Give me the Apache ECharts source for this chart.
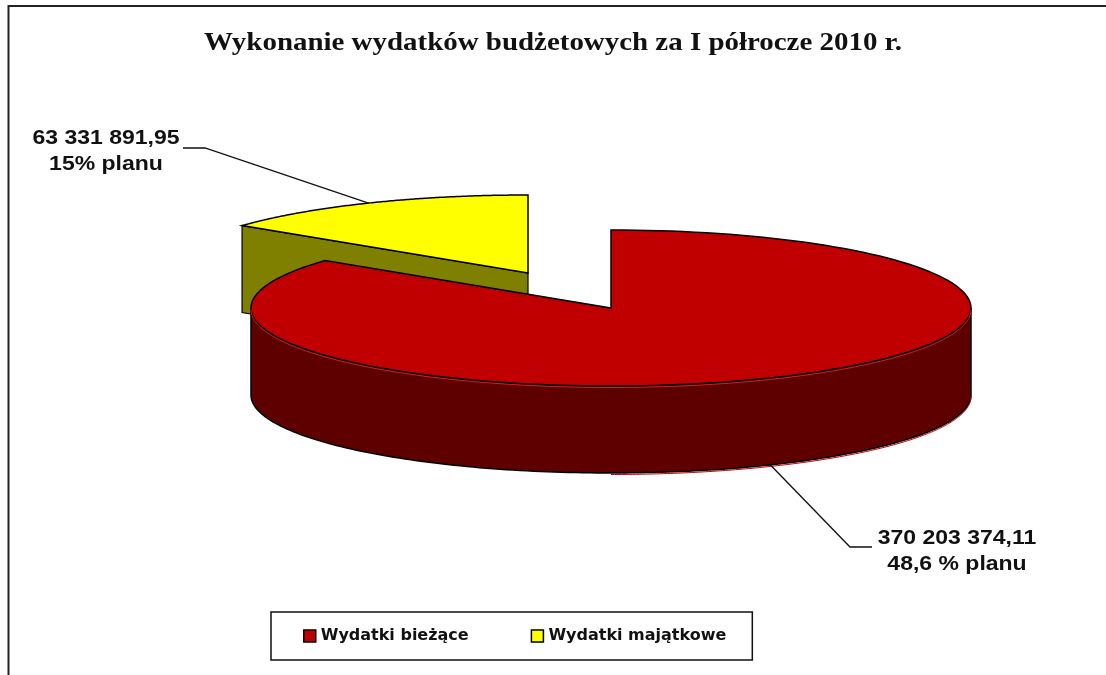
<!DOCTYPE html>
<html>
<head>
<meta charset="utf-8">
<style>html,body{margin:0;padding:0;background:#fff}#c{width:1106px;height:675px}</style>
<script src="https://cdn.jsdelivr.net/npm/echarts@6/dist/echarts.min.js"></script>
</head>
<body>
<div id="c"></div>
<script>
var titleText = 'Wykonanie wydatków budżetowych za I półrocze 2010 r.';
var categories = ['Wydatki bieżące', 'Wydatki majątkowe'];
var values = [370203374.11, 63331891.95];
var valueLabels = ['370 203 374,11', '63 331 891,95'];
var planLabels = ['48,6 % planu', '15% planu'];
var sliceColors = ['#C00000', '#FFFF00'];
var sideColors = ['#5F0000', '#808000'];

// 3D pie projection
var CX = 611, CY = 308, RX = 360, RY = 78, DEPTH = 87;
var EXPLODE = [[0, 0], [-83, -35]];
var LEADER_ELBOW = [[[850, 547], [872, 547]], [[205, 148], [183, 148]]];
var LABEL_POS = [[957, 551], [106, 151]];

var total = values[0] + values[1];
var red = values[0] / total * Math.PI * 2;
var ranges = [[0, red], [red, Math.PI * 2]];

function pt(i, a, dz) {
  return [CX + EXPLODE[i][0] + Math.sin(a) * RX,
          CY + EXPLODE[i][1] - Math.cos(a) * RY + (dz || 0)];
}
function arc(i, a0, a1, dz) {
  var out = [], n = 160;
  for (var k = 0; k <= n; k++) out.push(pt(i, a0 + (a1 - a0) * k / n, dz));
  return out;
}
function shape(type, pts, fill, w) {
  return {type: type, shape: {points: pts},
          style: {fill: fill, stroke: '#000', lineWidth: w === undefined ? 1.5 : w}};
}
function rim(pts, color) {
  return {type: 'polyline', shape: {points: pts},
          style: {fill: null, stroke: color, lineWidth: 1}};
}
function renderSlice(i) {
  return function () {
    var a0 = ranges[i][0], a1 = ranges[i][1];
    var c = [CX + EXPLODE[i][0], CY + EXPLODE[i][1]];
    var kids = [];
    if (i === 0) {
      var front = arc(i, Math.PI / 2, Math.PI * 1.5, 0);
      var frontBottom = arc(i, Math.PI * 1.5, Math.PI / 2, DEPTH);
      kids.push(shape('polygon', front.concat(frontBottom), sideColors[i], 1.5));
      kids.push(rim(arc(i, Math.PI / 2, Math.PI, DEPTH + 1.5), '#C00000'));
    } else {
      var p = pt(i, a0);
      kids.push(shape('polygon', [p, c, [c[0], c[1] + DEPTH], [p[0], p[1] + DEPTH]], sideColors[i], 1.2));
    }
    kids.push(shape('polygon', [c].concat(arc(i, a0, a1)), sliceColors[i], 1.5));
    if (i === 0) kids.push(rim(arc(i, Math.PI / 2, Math.PI * 1.5, 1.5), '#D02020'));
    // leader line from the middle of the slice's outer edge
    var mid = (a0 + a1) / 2;
    var start = pt(i, mid, Math.cos(mid) < 0 ? DEPTH : 0);
    kids.push({type: 'polyline', shape: {points: [start].concat(LEADER_ELBOW[i])},
               style: {fill: null, stroke: '#111', lineWidth: 1.3}});
    kids.push({type: 'text', x: LABEL_POS[i][0], y: LABEL_POS[i][1], scaleX: 1.15, style: {
      x: 0, y: 0, align: 'center', verticalAlign: 'middle',
      text: valueLabels[i] + '\n' + planLabels[i], lineHeight: 26,
      font: 'bold 20px "Liberation Sans"', fill: '#111'}});
    return {type: 'group', children: kids};
  };
}

var chart = echarts.init(document.getElementById('c'), null, {renderer: 'canvas'});
chart.setOption({
  animation: false,
  backgroundColor: '#fff',
  legend: {
    data: categories, left: 271, top: 612, orient: 'horizontal',
    padding: [16, 26, 16, 32], itemGap: 62, itemWidth: 12, itemHeight: 12, icon: 'rect',
    backgroundColor: '#fff', borderColor: '#111', borderWidth: 1.5,
    itemStyle: {borderColor: '#000', borderWidth: 1.5},
    textStyle: {fontFamily: '"DejaVu Sans"', fontWeight: 'bold', fontSize: 16, color: '#111'}
  },
  graphic: [{
    type: 'polyline', silent: true, z: -1,
    shape: {points: [[1106, 6], [8.5, 6], [8.5, 675]]},
    style: {fill: null, stroke: '#222', lineWidth: 2}
  }, {
    type: 'text', silent: true, x: 553, y: 44, scaleX: 1.157,
    style: {x: 0, y: 0, text: titleText, align: 'center', verticalAlign: 'middle',
            font: 'bold 25px "Liberation Serif"', fill: '#111'}
  }],
  series: [
    {type: 'custom', name: categories[1], coordinateSystem: 'none', z: 2, silent: true,
     itemStyle: {color: sliceColors[1]}, data: [values[1]], renderItem: renderSlice(1)},
    {type: 'custom', name: categories[0], coordinateSystem: 'none', z: 3, silent: true,
     itemStyle: {color: sliceColors[0]}, data: [values[0]], renderItem: renderSlice(0)}
  ]
});
</script>
</body>
</html>
